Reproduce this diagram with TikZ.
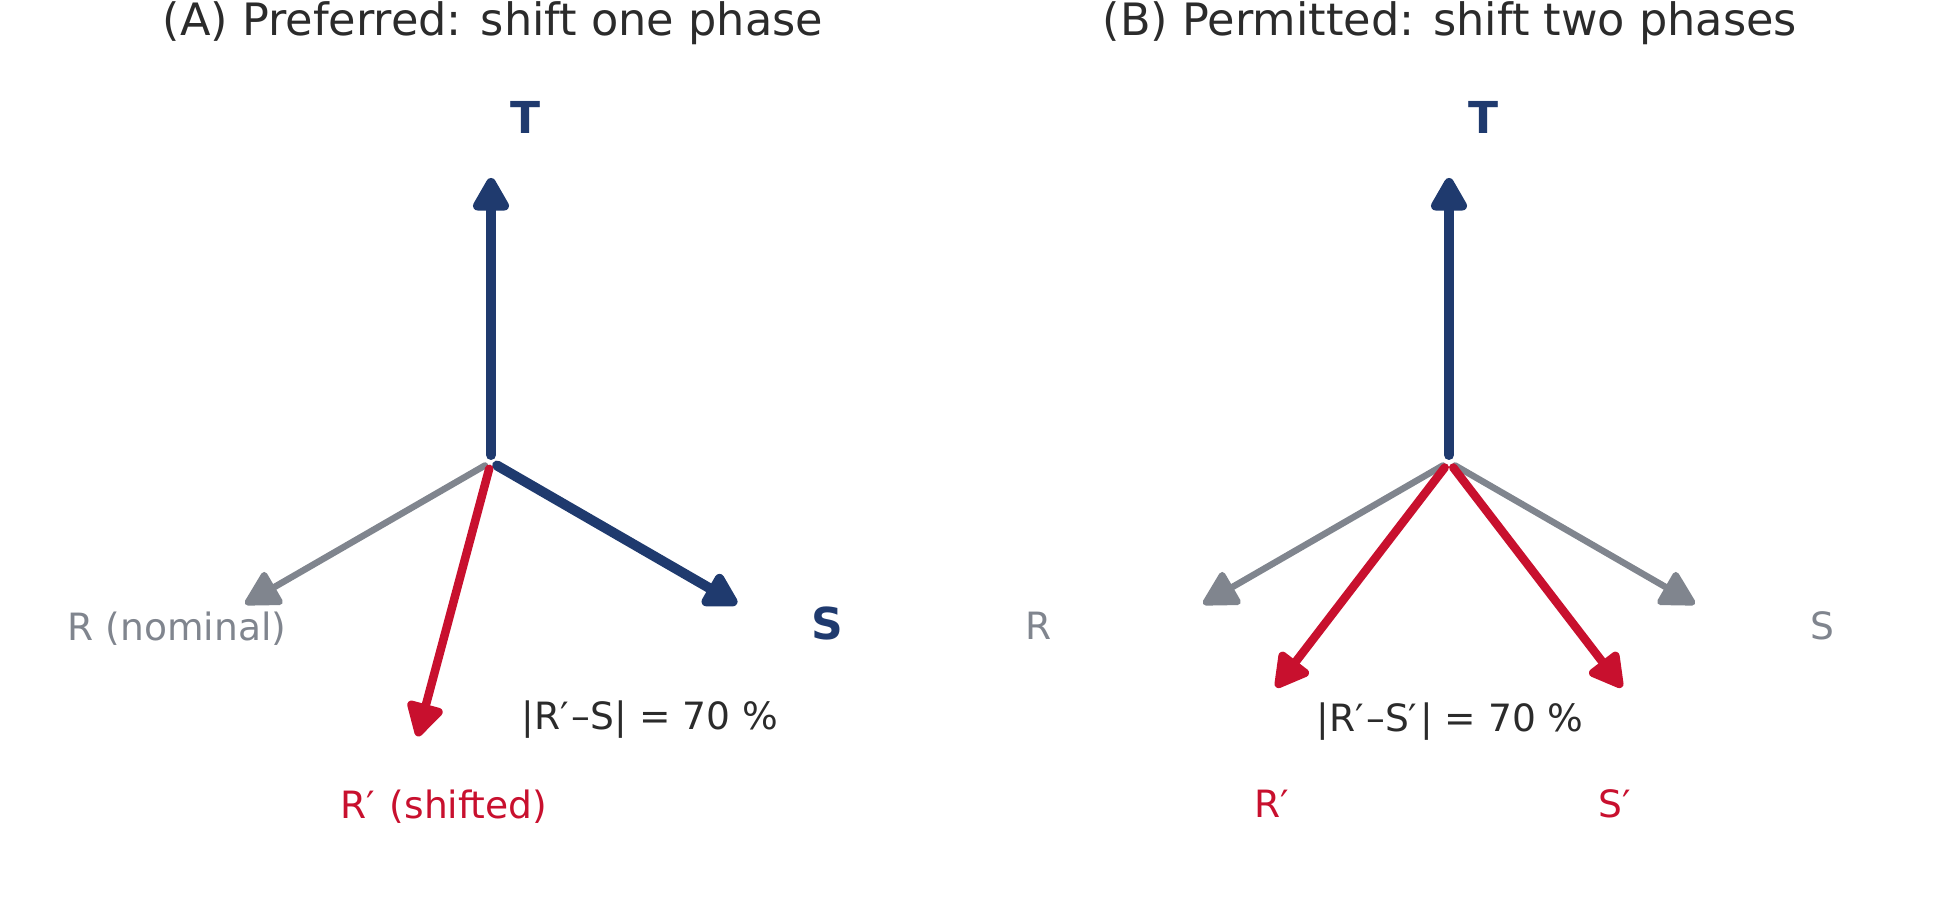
\documentclass[tikz,border=0pt]{standalone}
\usepackage{fontspec}
\setmainfont{DejaVu Sans}
\usetikzlibrary{arrows.meta}
\definecolor{navy}{RGB}{31,58,110}
\definecolor{crim}{RGB}{200,16,46}
\definecolor{greyv}{RGB}{128,133,142}
\definecolor{txt}{RGB}{43,43,43}
\newcommand\prm{′\kern1.3pt}
\begin{document}
\begin{tikzpicture}[x=0.5pt,y=0.5pt,
  vec/.style={line cap=round, shorten <=3.5pt, -{Triangle[length=19pt,width=20pt,round]}},
  navyvec/.style={vec, color=navy, line width=5pt},
  greyvec/.style={vec, color=greyv, line width=3.25pt},
  redvec/.style={vec, color=crim, line width=4.25pt},
  ttl/.style={font=\fontsize{22.3}{27}\selectfont, text=txt, anchor=base, inner sep=0pt},
  lbl/.style={font=\fontsize{18.8}{22}\selectfont, anchor=base, inner sep=0pt},
  blbl/.style={font=\fontsize{22}{26}\selectfont\bfseries, text=navy, anchor=base, inner sep=0pt}]
\useasboundingbox (0,0) rectangle (1945,916);
% panel A
\coordinate (OA) at (491,454);
\coordinate (TA) at ([shift={(90:284)}]OA);
\coordinate (RA) at ([shift={(210:284)}]OA);
\coordinate (SA) at ([shift={(330:284)}]OA);
\coordinate (RpA) at ([shift={(255:284)}]OA);
\draw[greyvec] (OA) -- (RA);
\draw[navyvec] (OA) -- (TA);
\draw[navyvec] (OA) -- (SA);
\draw[redvec] (OA) -- (RpA);
\node[ttl] (ttlA) at (493,880) {(A) Preferred: shift one phase};
\node[blbl] (lTA) at (526,782) {T};
\node[blbl] (lSA) at (827,276) {S};
\node[lbl,text=greyv] (lRA) at (177,275) {R (nominal)};
\node[lbl,text=txt] (dA) at (650,186) {|R\prm{}–S| = 70 \%};
\node[lbl,text=crim] (lRpA) at (444,97) {R\prm{} (shifted)};
% panel B
\coordinate (OB) at (1449,454);
\coordinate (TB) at ([shift={(90:284)}]OB);
\coordinate (RB) at ([shift={(210:284)}]OB);
\coordinate (SB) at ([shift={(330:284)}]OB);
\coordinate (RpB) at ([shift={(232.5:284)}]OB);
\coordinate (SpB) at ([shift={(307.5:284)}]OB);
\draw[greyvec] (OB) -- (RB);
\draw[greyvec] (OB) -- (SB);
\draw[navyvec] (OB) -- (TB);
\draw[redvec] (OB) -- (RpB);
\draw[redvec] (OB) -- (SpB);
\node[ttl] (ttlB) at (1450,880) {(B) Permitted: shift two phases};
\node[blbl] (lTB) at (1483,782) {T};
\node[lbl,text=greyv] (lRB) at (1039,276) {R};
\node[lbl,text=greyv] (lSB) at (1822,276) {S};
\node[lbl,text=txt] (dB) at (1450,184) {|R\prm{}–S\prm{}| = 70 \%};
\node[lbl,text=crim] (lRpB) at (1272,98) {R′};
\node[lbl,text=crim] (lSpB) at (1615,98) {S′};
\end{tikzpicture}
\end{document}
